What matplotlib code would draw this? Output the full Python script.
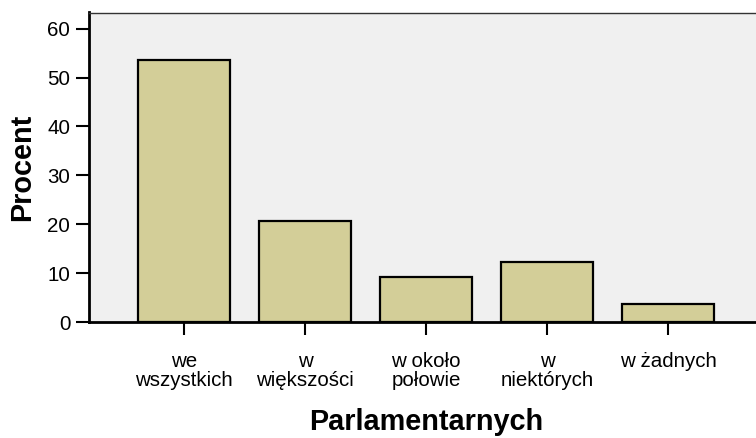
import matplotlib
matplotlib.use("Agg")
import matplotlib.pyplot as plt

# ==========================================
# DATA
# ==========================================
categories = [
    "we\nwszystkich",
    "w\nwiększości",
    "w około\npołowie",
    "w\nniektórych",
    "w żadnych",
]
percent = [53.6, 20.7, 9.2, 12.3, 3.7]
y_ticks = [0, 10, 20, 30, 40, 50, 60]

# ==========================================
# STYLE
# ==========================================
plt.rcParams["font.family"] = ["Liberation Sans", "DejaVu Sans"]

BAR_COLOR = "#d3ce98"
BG_COLOR = "#f0f0f0"

fig = plt.figure(figsize=(7.56, 4.38), dpi=100)
# axes right edge runs slightly past the canvas, like the original
ax = fig.add_axes([89 / 756, 1 - 322 / 438, 674 / 756, (322 - 12.5) / 438])
ax.set_facecolor(BG_COLOR)

x = range(len(categories))
ax.bar(x, percent, width=0.755, color=BAR_COLOR, edgecolor="black", linewidth=1.6, zorder=2)

ax.set_xlim(-0.785, len(categories) - 1 + 0.785)
ax.set_ylim(0, 63.3)

ax.set_yticks(y_ticks)
ax.set_xticks(list(x))
ax.set_xticklabels(categories, linespacing=1.0)

ax.tick_params(axis="both", direction="out", length=9.5, width=1.5,
               labelsize=14.8, colors="black")
ax.tick_params(axis="y", pad=4)
ax.tick_params(axis="x", pad=12)

for side in ["left", "bottom"]:
    ax.spines[side].set_linewidth(2)
    ax.spines[side].set_color("black")
ax.spines["top"].set_linewidth(1)
ax.spines["top"].set_color("#333333")
ax.spines["right"].set_linewidth(1)
ax.spines["right"].set_color("#333333")

ax.set_ylabel("Procent", fontsize=20.8, fontweight="bold", labelpad=8)
ax.set_xlabel("Parlamentarnych", fontsize=20.8, fontweight="bold", labelpad=13)

fig.savefig("out.png", dpi=100, facecolor="white")
